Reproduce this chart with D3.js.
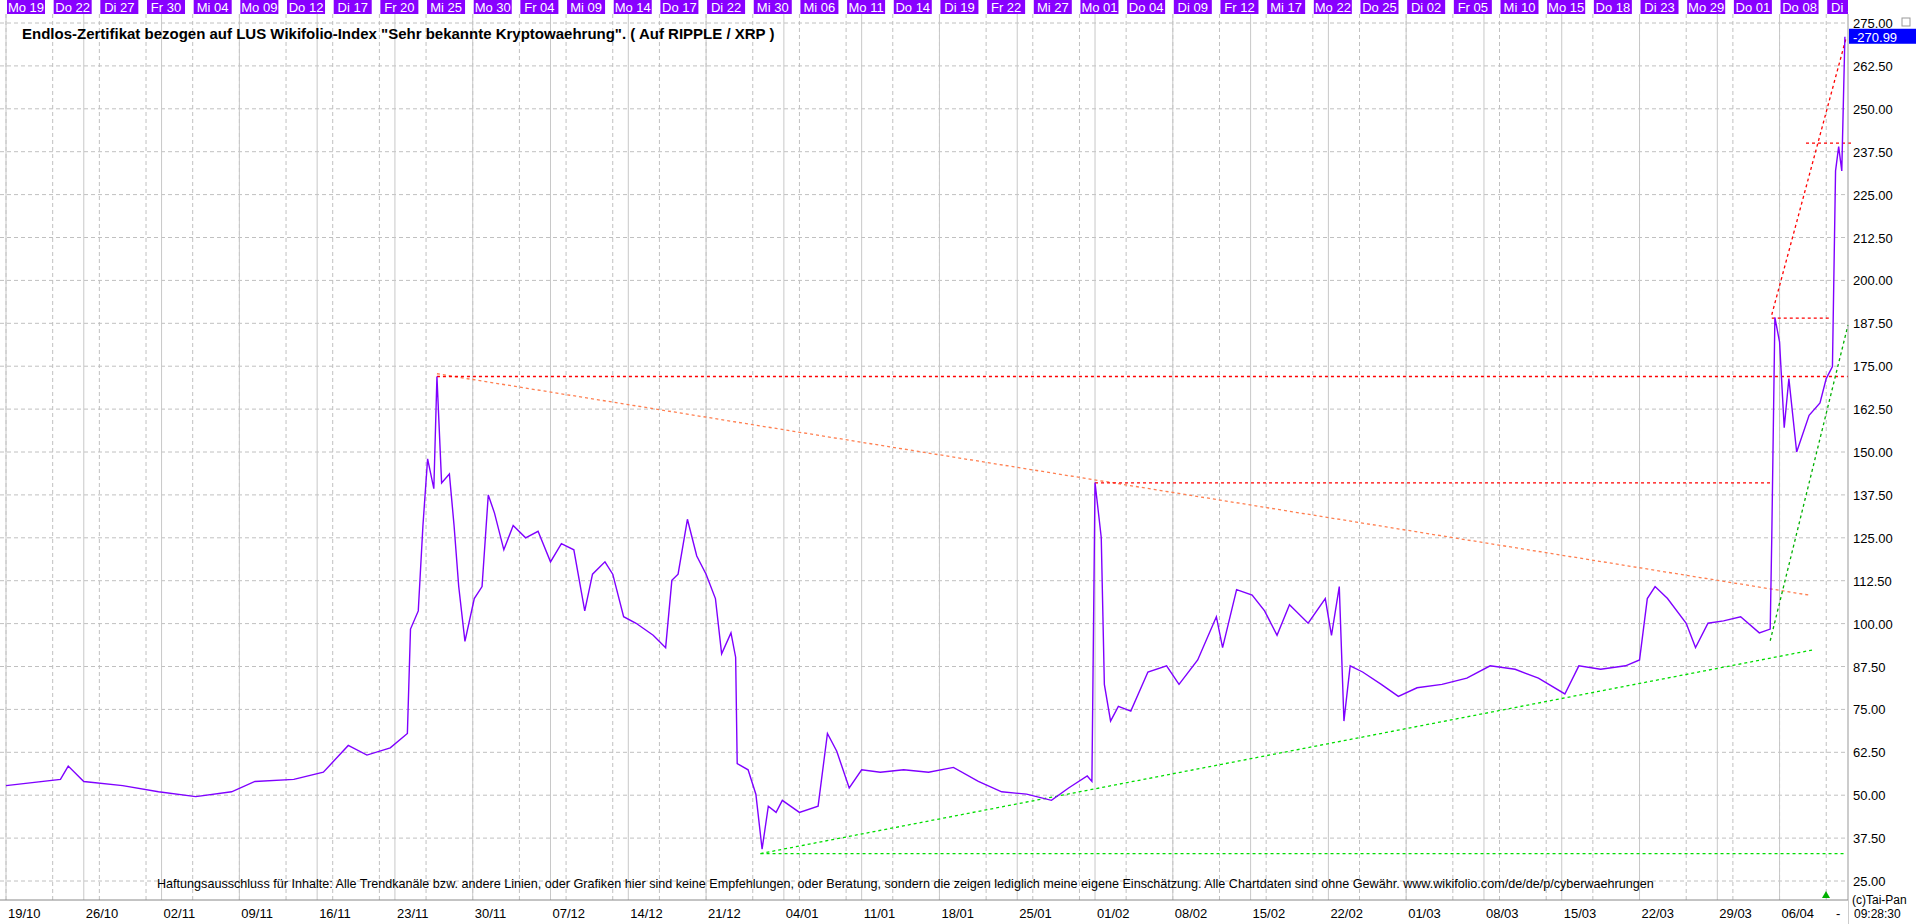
<!DOCTYPE html>
<html>
<head>
<meta charset="utf-8" />
<title>RIPPLE / XRP</title>
<script src="https://cdn.jsdelivr.net/npm/d3@7/dist/d3.min.js"></script>
<style>
  body { margin: 0; background: #fff; }
  svg { font-family: "Liberation Sans", Arial, sans-serif; }
</style>
</head>
<body>
<svg id="chart" width="1916" height="924"></svg>
<script>
// trading day index -> price
var priceT = [0,3.5,4,5,7.5,9.8,12.2,14.5,16,18.5,20.4,22,23.2,24.7,25.8,26,26.5,26.8,27.1,27.5,27.7,28,28.5,28.8,29.1,29.5,30.1,30.6,31,31.4,32,32.6,33.4,34.2,35,35.7,36.5,37.2,37.7,38.5,39,39.7,40.5,41.6,42.4,42.8,43.2,43.8,44.4,45,45.6,46,46.6,46.9,47,47.7,48.2,48.6,49,49.5,49.9,51,52.2,52.8,53.4,54.2,55,56.2,57.7,59.3,60.9,62.5,64,65.6,67.2,68.3,69.5,69.8,70,70.4,70.6,71,71.5,72.3,73.4,74.6,75.4,76.6,77.8,78.2,79.1,80.1,80.9,81.7,82.5,83.7,84.8,85.2,85.7,86,86.4,87.2,88.4,89.5,90.7,92.3,93.9,95.4,97,98.5,100.2,101.1,102.5,104.1,105,105.5,106,106.8,108,108.6,109.4,110.4,111.5,112.7,113.4,113.5,113.7,114,114.3,114.6,115.1,115.9,116.6,117,117.4,117.6,117.8,118,118.2];
var priceV = [52.8,54.6,58.5,54,52.8,51,49.6,51,54,54.6,56.7,64.5,61.7,63.8,68,98.4,103.7,128.6,148,139.3,172,141,143.6,128.6,110.8,94.8,107.3,110.8,137.5,132.2,121.5,128.6,125,126.9,118,123.3,121.5,103.7,114.4,118,114.4,102,100.1,96.6,93,112.6,114.4,130.4,119.7,114.4,107.3,91.2,97.3,90.2,59.2,57.4,50.3,34.3,46.8,45,48.5,45,46.8,68,62.8,52.1,57.4,56.7,57.4,56.7,58.1,54,51,50.3,48.5,52.1,55.6,54,141.1,125.1,82.3,71.6,75.9,74.5,85.9,87.7,82.3,89.4,102,93,109.9,108.3,103.7,96.6,105.5,100.1,107.3,96.6,110.8,71.6,87.7,85.9,82.3,78.8,81.3,82.3,84.1,87.7,86.7,84.1,79.5,87.7,86.7,87.7,89.4,107.3,110.8,107.3,100.1,93,100.1,100.8,102,97.3,98.4,125,189.2,182.1,157.1,171.4,150,160.7,164.3,171.4,174.9,231.9,239,231.9,271];

var topLabels = ["Mo 19","Do 22","Di 27","Fr 30","Mi 04","Mo 09","Do 12","Di 17","Fr 20","Mi 25","Mo 30","Fr 04","Mi 09","Mo 14","Do 17","Di 22","Mi 30","Mi 06","Mo 11","Do 14","Di 19","Fr 22","Mi 27","Mo 01","Do 04","Di 09","Fr 12","Mi 17","Mo 22","Do 25","Di 02","Fr 05","Mi 10","Mo 15","Do 18","Di 23","Mo 29","Do 01","Do 08","Di 13"];
var bottomLabels = ["19/10","26/10","02/11","09/11","16/11","23/11","30/11","07/12","14/12","21/12","04/01","11/01","18/01","25/01","01/02","08/02","15/02","22/02","01/03","08/03","15/03","22/03","29/03","06/04","-"];
var bottomT = [0,5,10,15,20,25,30,35,40,45,50,55,60,65,70,75,80,85,90,95,100,105,110,114,117.5];
var yTicks = [25,37.5,50,62.5,75,87.5,100,112.5,125,137.5,150,162.5,175,187.5,200,212.5,225,237.5,250,262.5,275];

// trend lines [t1, v1, t2, v2, colour]
var trendLines = [
  [27.7, 172.8, 115.9, 108.3, "#ff7f50"],
  [27.7, 172, 118.4, 172, "#ff0000"],
  [70, 141, 113.4, 141, "#ff0000"],
  [113.5, 189, 117.2, 189, "#ff0000"],
  [115.7, 240, 118.7, 240, "#ff0000"],
  [113.5, 190, 118.3, 271, "#ff0000"],
  [113.4, 95, 118.4, 187, "#00b000"],
  [48.5, 33, 116.1, 92.3, "#00dd00"],
  [48.5, 33, 118.2, 33, "#00dd00"]
];
var lastPrice = 270.99;

var svg = d3.select("#chart");
var W = 1916, H = 924, plotR = 1848, plotT = 14, plotB = 900;

var x = d3.scaleLinear().domain([0, 118.4]).range([6, plotR]);
var y = d3.scaleLinear().domain([25, 275]).range([881, 23]);

// grid
var grid = svg.append("g");
grid.selectAll("line.h").data(yTicks).enter().append("line")
  .attr("x1", 0).attr("x2", plotR).attr("y1", function (d) { return y(d); }).attr("y2", function (d) { return y(d); })
  .attr("stroke", "#c0c0c0").attr("stroke-dasharray", "4,3");
grid.selectAll("line.v").data(topLabels).enter().append("line")
  .attr("x1", function (d, i) { return x(i * 3); }).attr("x2", function (d, i) { return x(i * 3); })
  .attr("y1", plotT).attr("y2", plotB)
  .attr("stroke", "#c0c0c0").attr("stroke-dasharray", "4,3");
grid.selectAll("line.w").data(bottomT.slice(0, -1)).enter().append("line")
  .attr("x1", function (d) { return x(d); }).attr("x2", function (d) { return x(d); })
  .attr("y1", plotT).attr("y2", plotB)
  .attr("stroke", "#c8c8c8");

// trend lines
svg.append("g").selectAll("line").data(trendLines).enter().append("line")
  .attr("x1", function (d) { return x(d[0]); }).attr("y1", function (d) { return y(d[1]); })
  .attr("x2", function (d) { return x(d[2]); }).attr("y2", function (d) { return y(d[3]); })
  .attr("stroke", function (d) { return d[4]; }).attr("stroke-width", 1.3)
  .attr("stroke-dasharray", "3,3");

// price line
var line = d3.line().x(function (d, i) { return x(priceT[i]); }).y(function (d) { return y(d); });
svg.append("path").datum(priceV).attr("d", line)
  .attr("fill", "none").attr("stroke", "#7f00ff").attr("stroke-width", 1.4);

// top date bar
var topBar = svg.append("g");
topBar.append("rect").attr("x", 0).attr("y", 0).attr("width", plotR).attr("height", 14).attr("fill", "#fff");
topBar.selectAll("g").data(topLabels).enter().append("g")
  .attr("transform", function (d, i) { return "translate(" + x(i * 3) + ",0)"; })
  .each(function (d) {
    var g = d3.select(this);
    g.append("rect").attr("x", 1).attr("y", 0).attr("width", 38).attr("height", 14).attr("fill", "#8800ff");
    g.append("text").attr("x", 20).attr("y", 12).attr("text-anchor", "middle")
      .attr("fill", "#fff").attr("font-size", 13).text(d);
  });
topBar.append("rect").attr("x", plotR).attr("y", 0).attr("width", W - plotR).attr("height", 14).attr("fill", "#fff");

// title
svg.append("text").attr("x", 22).attr("y", 39).attr("font-size", 15).attr("font-weight", "bold")
  .text('Endlos-Zertifikat bezogen auf LUS Wikifolio-Index "Sehr bekannte Kryptowaehrung". ( Auf RIPPLE / XRP )');

// right axis
svg.append("line").attr("x1", plotR).attr("x2", plotR).attr("y1", plotT).attr("y2", H).attr("stroke", "#999");
svg.append("g").selectAll("text").data(yTicks).enter().append("text")
  .attr("x", plotR + 5).attr("y", function (d) { return y(d) + 5; })
  .attr("font-size", 13).text(function (d) { return d.toFixed(2); });
svg.append("rect").attr("x", plotR + 1).attr("y", y(lastPrice) - 8).attr("width", W - plotR).attr("height", 15).attr("fill", "#0000ff");
svg.append("text").attr("x", plotR + 5).attr("y", y(lastPrice) + 5).attr("font-size", 13).attr("fill", "#fff")
  .text("-" + lastPrice.toFixed(2));
svg.append("rect").attr("x", 1902).attr("y", 18).attr("width", 8).attr("height", 8).attr("fill", "none").attr("stroke", "#999");

// disclaimer
svg.append("text").attr("x", 157).attr("y", 888).attr("font-size", 12.6)
  .text("Haftungsausschluss für Inhalte: Alle Trendkanäle bzw. andere Linien, oder Grafiken hier sind keine Empfehlungen, oder Beratung, sondern die zeigen lediglich meine eigene Einschätzung. Alle Chartdaten sind ohne Gewähr.  www.wikifolio.com/de/de/p/cyberwaehrungen");
svg.append("text").attr("x", plotR + 4).attr("y", 904).attr("font-size", 12).text("(c)Tai-Pan");

// bottom axis
svg.append("rect").attr("x", 0).attr("y", plotB).attr("width", plotR).attr("height", H - plotB).attr("fill", "#fff");
svg.append("line").attr("x1", 0).attr("x2", plotR).attr("y1", plotB).attr("y2", plotB).attr("stroke", "#888");
svg.append("g").selectAll("text").data(bottomLabels).enter().append("text")
  .attr("x", function (d, i) { return x(bottomT[i]) + 2; }).attr("y", 918)
  .attr("font-size", 13).text(function (d) { return d; });
svg.append("text").attr("x", plotR + 6).attr("y", 918).attr("font-size", 12).text("09:28:30");
svg.append("path").attr("d", "M1822,898 L1826,891 L1830,898 Z").attr("fill", "#00b000");
</script>
</body>
</html>
